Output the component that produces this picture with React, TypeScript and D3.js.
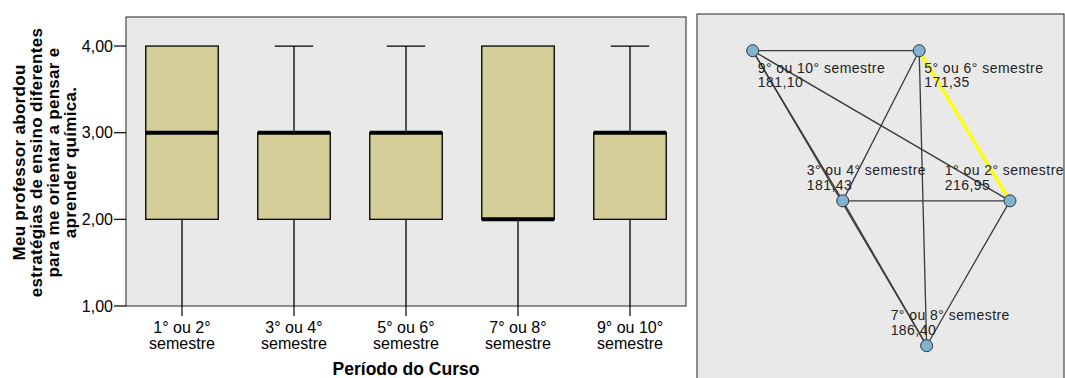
import React from "react";
import * as d3 from "d3";

// Course periods (groups) and the box-plot summary for each one
const periods = ["1° ou 2°", "3° ou 4°", "5° ou 6°", "7° ou 8°", "9° ou 10°"];
const periodSuffix = "semestre";
const whiskerLow = [1, 1, 1, 1, 1];
const q1 = [2, 2, 2, 2, 2];
const median = [3, 3, 3, 2, 3];
const q3 = [4, 3, 3, 4, 3];
const whiskerHigh = [4, 4, 4, 4, 4];
const yTicks = [1, 2, 3, 4];

const yTitleLines = [
  "Meu professor abordou",
  "estratégias de ensino diferentes",
  "para me orientar a pensar e",
  "aprender química.",
];
const xTitle = "Período do Curso";

// Pairwise comparison graph: mean rank per group
const meanRanks = [216.95, 181.43, 171.35, 186.4, 181.1];
// Node arrangement of the comparison graph (unit square)
const nodeLayoutX = [1, 0.35, 0.647, 0.676, 0];
const nodeLayoutY = [0.509, 0.509, 0, 1, 0];
// Pairs flagged as significantly different
const significantPairs: [number, number][] = [[0, 2]];

const W = 1065;
const H = 378;
const FONT = "'Liberation Sans', Arial, Helvetica, sans-serif";

const ptBR = d3.formatLocale({
  decimal: ",",
  thousands: ".",
  grouping: [3],
  currency: ["", ""],
});
const fmt2 = ptBR.format(".2f");

let measureCtx: CanvasRenderingContext2D | null = null;
function textWidth(s: string, font: string, spacing = 0) {
  if (!measureCtx) measureCtx = document.createElement("canvas").getContext("2d");
  if (!measureCtx) return s.length * 7;
  measureCtx.font = font;
  return measureCtx.measureText(s).width + spacing * s.length;
}

function BoxPlot() {
  const left = 126, right = 686, top = 17, bottom = 306;
  const x = d3.scaleBand<string>().domain(periods).range([left, right]).padding(0);
  const y = d3.scaleLinear().domain([1, 4.335]).range([bottom, top]);
  const yMin = y.domain()[0];
  const bw = x.bandwidth();
  const boxW = bw * 0.647;
  const capW = boxW * 0.53;

  return (
    <g>
      <rect x={left} y={top} width={right - left} height={bottom - top} fill="#e9e9e9" stroke="#222" strokeWidth={1} />
      {periods.map((p, i) => {
        const cx = x(p)! + bw / 2;
        return (
          <g key={p}>
            {/* whiskers */}
            <line x1={cx} x2={cx} y1={y(q3[i])} y2={y(whiskerHigh[i])} stroke="#000" strokeWidth={1.3} />
            <line x1={cx} x2={cx} y1={y(q1[i])} y2={y(whiskerLow[i])} stroke="#000" strokeWidth={1.3} />
            {whiskerHigh[i] > q3[i] && (
              <line x1={cx - capW / 2} x2={cx + capW / 2} y1={y(whiskerHigh[i])} y2={y(whiskerHigh[i])} stroke="#000" strokeWidth={1.3} />
            )}
            {whiskerLow[i] < q1[i] && whiskerLow[i] > yMin && (
              <line x1={cx - capW / 2} x2={cx + capW / 2} y1={y(whiskerLow[i])} y2={y(whiskerLow[i])} stroke="#000" strokeWidth={1.3} />
            )}
            {/* box */}
            <rect x={cx - boxW / 2} y={y(q3[i])} width={boxW} height={y(q1[i]) - y(q3[i])} fill="#d3ce97" stroke="#000" strokeWidth={1.3} />
            {/* median */}
            <line x1={cx - boxW / 2} x2={cx + boxW / 2} y1={y(median[i])} y2={y(median[i])} stroke="#000" strokeWidth={4} />
            {/* x tick + label */}
            <line x1={cx} x2={cx} y1={bottom} y2={bottom + 10} stroke="#000" strokeWidth={1.2} />
            <text x={cx} y={333} textAnchor="middle" fontSize={16} fill="#000">{p}</text>
            <text x={cx} y={349} textAnchor="middle" fontSize={16} fill="#000">{periodSuffix}</text>
          </g>
        );
      })}
      {yTicks.map((t) => (
        <g key={t}>
          <line x1={left - 12} x2={left} y1={y(t)} y2={y(t)} stroke="#000" strokeWidth={1.2} />
          <text x={left - 13} y={y(t)} dy="0.36em" textAnchor="end" fontSize={16} fill="#000">{fmt2(t)}</text>
        </g>
      ))}
      <text x={(left + right) / 2} y={375} textAnchor="middle" fontSize={17.5} fontWeight="bold" fill="#000">{xTitle}</text>
      <g transform={`translate(0, ${(top + bottom) / 2 + 1}) rotate(-90)`}>
        {yTitleLines.map((s, i) => (
          <text key={i} x={0} y={24.5 + i * 17} textAnchor="middle" fontSize={17} letterSpacing={0.3} fontWeight="bold" fill="#000">{s}</text>
        ))}
      </g>
    </g>
  );
}

function ComparisonGraph() {
  const left = 697, top = 14, right = 1064;
  const sx = d3.scaleLinear().domain([0, 1]).range([752.7, 1010]);
  const sy = d3.scaleLinear().domain([0, 1]).range([50.7, 345.7]);
  const nodes = periods.map((p, i) => ({
    name: `${p} ${periodSuffix}`,
    rank: meanRanks[i],
    x: sx(nodeLayoutX[i]),
    y: sy(nodeLayoutY[i]),
  }));
  const pairs = d3.cross(d3.range(nodes.length), d3.range(nodes.length)).filter(([a, b]) => a < b);
  const isSig = (a: number, b: number) =>
    significantPairs.some(([s, t]) => (s === a && t === b) || (s === b && t === a));
  const labelSize = 14;
  const labelSpacing = 0.45;
  const labelFont = `${labelSize}px ${FONT}`;

  return (
    <g>
      <rect x={left} y={top} width={right - left} height={H + 20 - top} fill="#e9e9e9" stroke="#222" strokeWidth={1} />
      {pairs.filter(([a, b]) => !isSig(a, b)).map(([a, b]) => (
        <line key={`${a}-${b}`} x1={nodes[a].x} y1={nodes[a].y} x2={nodes[b].x} y2={nodes[b].y} stroke="#3a3a3a" strokeWidth={1.3} />
      ))}
      {pairs.filter(([a, b]) => isSig(a, b)).map(([a, b]) => (
        <line key={`s${a}-${b}`} x1={nodes[a].x} y1={nodes[a].y} x2={nodes[b].x} y2={nodes[b].y} stroke="#ffff00" strokeWidth={3.2} />
      ))}
      {nodes.map((n) => {
        const onTop = n.y < 100;
        const w = Math.max(
          textWidth(n.name, labelFont, labelSpacing),
          textWidth(fmt2(n.rank), labelFont, labelSpacing)
        );
        let lx = onTop ? n.x + 5 : n.x - 36;
        if (lx + w > right) lx = right - w;
        const b1 = onTop ? n.y + 22 : n.y - 25.5;
        return (
          <g key={n.name}>
            <text x={lx} y={b1} fontSize={labelSize} letterSpacing={labelSpacing} fill="#222">{n.name}</text>
            <text x={lx} y={b1 + 14.5} fontSize={labelSize} letterSpacing={labelSpacing} fill="#222">{fmt2(n.rank)}</text>
          </g>
        );
      })}
      {nodes.map((n) => (
        <circle key={`c${n.name}`} cx={n.x} cy={n.y} r={6} fill="#80b3d1" stroke="#333" strokeWidth={1} />
      ))}
    </g>
  );
}

export default function App() {
  return (
    <svg
      width={W}
      height={H}
      viewBox={`0 0 ${W} ${H}`}
      style={{ position: "absolute", left: 0, top: 0, background: "#fff" }}
      fontFamily={FONT}
    >
      <rect width={W} height={H} fill="#fff" />
      <BoxPlot />
      <ComparisonGraph />
    </svg>
  );
}
